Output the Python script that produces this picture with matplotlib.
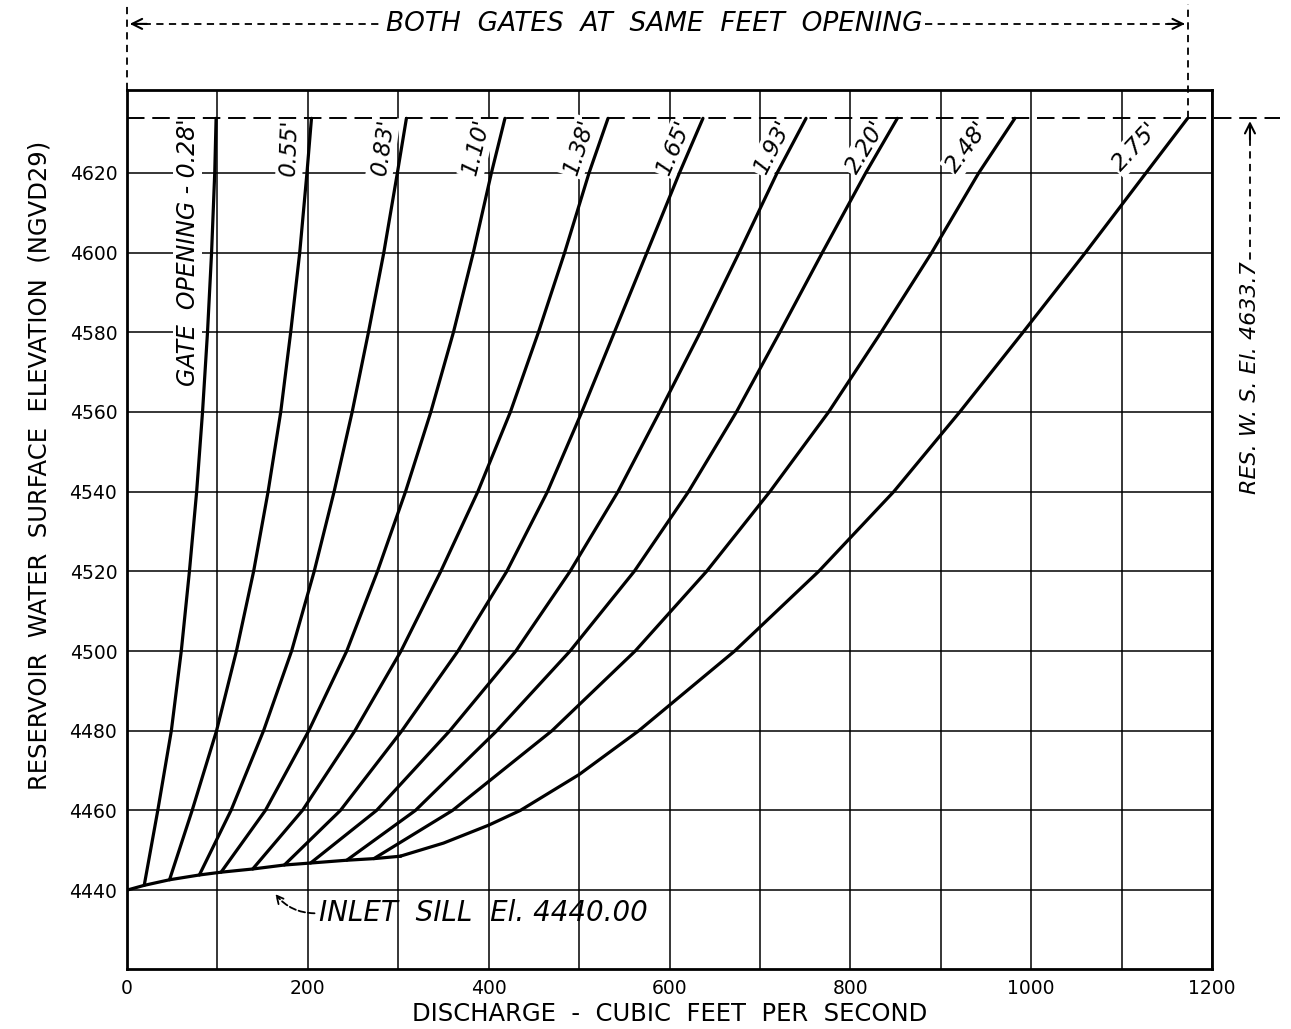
import matplotlib
matplotlib.use("Agg")
import matplotlib.pyplot as plt
import numpy as np

# ---------------- data ----------------
gate_labels = ["0.28'", "0.55'", "0.83'", "1.10'", "1.38'", "1.65'", "1.93'", "2.20'", "2.48'", "2.75'"]

# point where each gate curve leaves the low-head (sill) curve
start_q = [19, 47, 80, 104, 139, 174, 203, 243, 273, 302]
start_h = [4441.2, 4442.6, 4443.8, 4444.5, 4445.3, 4446.3, 4446.8, 4447.5, 4447.9, 4448.5]

# discharge of each gate curve at these reservoir elevations
elevations = [4460, 4480, 4500, 4520, 4540, 4560, 4580, 4600, 4620, 4633.7]
q_028 = [34, 49, 60, 69, 77, 83.5, 89, 93.5, 97, 98.5]
q_055 = [72, 99, 121, 140, 156, 170, 181, 191, 199, 204]
q_083 = [115, 151, 182, 207, 229, 249, 267, 284, 299, 309]
q_110 = [153, 201, 243, 277, 308, 336, 361, 383, 403, 418]
q_138 = [194, 252, 303, 347, 388, 424, 455, 484, 511, 532]
q_165 = [236, 304, 366, 420, 465, 503, 539, 575, 611, 637]
q_193 = [276, 357, 430, 490, 543, 589, 634, 677, 719, 751]
q_220 = [319, 409, 490, 561, 621, 674, 722, 769, 817, 852]
q_248 = [360, 470, 562, 641, 711, 776, 834, 890, 942, 982]
q_275 = [435, 566, 672, 765, 848, 921, 991, 1060, 1127, 1173]
# extra points of the 2.75' curve (below 4460 and between 4460 and 4480)
q_275_low = [350, 400]
h_275_low = [4451.8, 4456.3]
q_275_mid = 500
h_275_mid = 4469.0

sill_elev = 4440.0
res_ws_elev = 4633.7

x_ticks = [0, 200, 400, 600, 800, 1000, 1200]
y_ticks = [4440, 4460, 4480, 4500, 4520, 4540, 4560, 4580, 4600, 4620]

# label placement (discharge, elevation, rotation)
label_q = [67, 180, 283, 387, 500, 605, 714, 817, 930, 1115]
label_h = [4600, 4626.5, 4626.5, 4626.5, 4626.5, 4626.5, 4626.5, 4626.5, 4626.5, 4626.5]
label_rot = [90, 88, 82, 76, 72, 67, 63, 59, 54, 47]

# ---------------- figure ----------------
plt.rcParams["font.family"] = ["DejaVu Sans"]
fig = plt.figure(figsize=(12.91, 10.29), dpi=100)
ax = fig.add_axes([0.0984, 0.0583, 0.8404, 0.8542])
ax.set_xlim(0, 1200)
ax.set_ylim(4420.2, 4640.8)

ax.set_xticks(x_ticks)
ax.set_xticks(np.arange(100, 1200, 200), minor=True)
ax.set_yticks(y_ticks)
ax.tick_params(axis="both", which="both", length=0, labelsize=13.5, pad=7)
ax.grid(True, which="both", color="black", linewidth=1.1)
ax.set_axisbelow(True)
for s in ax.spines.values():
    s.set_linewidth(2.0)

curves = [q_028, q_055, q_083, q_110, q_138, q_165, q_193, q_220, q_248, q_275]
for i, qs in enumerate(curves):
    if i == len(curves) - 1:
        xq = [start_q[i]] + q_275_low + [qs[0], q_275_mid] + qs[1:]
        yh = [start_h[i]] + h_275_low + [elevations[0], h_275_mid] + elevations[1:]
    else:
        xq = [start_q[i]] + qs
        yh = [start_h[i]] + elevations
    ax.plot(xq, yh, color="black", lw=2.3, solid_joinstyle="round",
            solid_capstyle="round", zorder=4)

# low-head envelope from the sill
ax.plot([0] + start_q, [sill_elev] + start_h, color="black", lw=2.3,
        solid_joinstyle="round", zorder=4)

# gate opening labels
for i, lab in enumerate(gate_labels):
    txt = ("GATE  OPENING - " + lab) if i == 0 else lab
    ax.text(label_q[i], label_h[i], txt, rotation=label_rot[i], rotation_mode="anchor",
            ha="center", va="center", fontsize=17 if i == 0 else 16.5,
            fontstyle="italic", zorder=3,
            bbox=dict(facecolor="white", edgecolor="none", pad=1.5))

# reservoir water surface line
ax.plot([0, 1275], [res_ws_elev, res_ws_elev], color="black", lw=1.4,
        linestyle=(0, (9, 4)), clip_on=False, zorder=3)

# top dimension: both gates at same feet opening
y_top = 4657.4
dash_s = (0, (4, 3))
ax.plot([0, 0], [4640.8, 4662.5], color="black", lw=1.3, linestyle=dash_s, clip_on=False)
ax.plot([q_275[-1], q_275[-1]], [res_ws_elev, 4662.5], color="black", lw=1.3,
        linestyle=dash_s, clip_on=False)
top_txt = ax.text(583, y_top, "BOTH  GATES  AT  SAME  FEET  OPENING", ha="center", va="center",
                  fontsize=19, fontstyle="italic", clip_on=False)
fig.canvas.draw()
bb = top_txt.get_window_extent(fig.canvas.get_renderer())
inv = ax.transData.inverted()
x_left = inv.transform((bb.x0 - 3, 0))[0]
x_right = inv.transform((bb.x1 + 3, 0))[0]
ax.plot([4, x_left], [y_top, y_top], color="black", lw=1.3, linestyle=dash_s, clip_on=False)
ax.plot([x_right, q_275[-1] - 4], [y_top, y_top], color="black", lw=1.3, linestyle=dash_s,
        clip_on=False)
ax.annotate("", xy=(0, y_top), xytext=(25, y_top),
            arrowprops=dict(arrowstyle="->", lw=1.5, color="black", mutation_scale=18),
            annotation_clip=False)
ax.annotate("", xy=(q_275[-1], y_top), xytext=(q_275[-1] - 25, y_top),
            arrowprops=dict(arrowstyle="->", lw=1.5, color="black", mutation_scale=18),
            annotation_clip=False)

# right side annotation
x_rs = 1242
rs_txt = ax.text(x_rs, 4568.5, "RES. W. S. El. 4633.7", rotation=90, ha="center", va="center",
                 fontsize=16, fontstyle="italic", clip_on=False)
fig.canvas.draw()
bb2 = rs_txt.get_window_extent(fig.canvas.get_renderer())
y_txt_top = inv.transform((0, bb2.y1 + 2))[1]
ax.plot([x_rs, x_rs], [res_ws_elev - 2, y_txt_top], color="black", lw=1.3,
        linestyle=dash_s, clip_on=False)
ax.annotate("", xy=(x_rs, res_ws_elev), xytext=(x_rs, res_ws_elev - 6),
            arrowprops=dict(arrowstyle="->", lw=1.5, color="black", mutation_scale=18),
            annotation_clip=False)

# inlet sill annotation
ax.annotate("INLET  SILL  El. 4440.00", xy=(164, 4439.0), xytext=(212, 4434.2),
            ha="left", va="center", fontsize=20, fontstyle="italic",
            arrowprops=dict(arrowstyle="->", lw=1.3, color="black", linestyle="--",
                            connectionstyle="arc3,rad=-0.25", mutation_scale=14,
                            relpos=(0, 0.5), shrinkA=1, shrinkB=0))

ax.set_xlabel("DISCHARGE  -  CUBIC  FEET  PER  SECOND", fontsize=17.5, labelpad=3)
ax.set_ylabel("RESERVOIR  WATER  SURFACE  ELEVATION  (NGVD29)", fontsize=17.5)
ax.yaxis.set_label_coords(-0.070, 0.573)

fig.savefig("out.png", dpi=100)
